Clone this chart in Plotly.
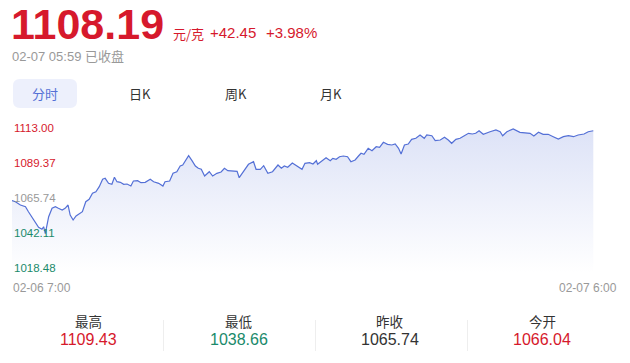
import plotly.graph_objects as go
from datetime import datetime

# ---------------- data ----------------
times = [
    "07:00", "07:08", "07:20", "07:32", "07:39", "07:47", "07:55", "08:03", "08:11", "08:15",
    "08:19", "08:27", "08:35", "08:43", "08:50", "08:59", "09:06", "09:13", "09:18", "09:25",
    "09:32", "09:40", "09:47", "09:55", "10:03", "10:11", "10:19", "10:27", "10:35", "10:41",
    "10:49", "10:57", "11:03", "11:09", "11:17", "11:25", "11:33", "11:42", "11:48", "11:58",
    "12:06", "12:16", "12:28", "12:36", "12:48", "12:58", "13:03", "13:14", "13:22", "13:31",
    "13:39", "13:45", "13:51", "13:59", "14:07", "14:15", "14:22", "14:29", "14:37", "14:48",
    "14:56", "15:06", "15:16", "15:24", "15:32", "15:43", "15:54", "15:59", "16:09", "16:21",
    "16:33", "16:39", "16:49", "16:57", "17:07", "17:18", "17:31", "17:39", "17:46", "17:54",
    "18:05", "18:16", "18:28", "18:35", "18:46", "18:54", "19:02", "19:05", "19:15", "19:25",
    "19:35", "19:41", "19:49", "19:57", "20:06", "20:16", "20:24", "20:34", "20:42", "20:48",
    "20:55", "21:05", "21:14", "21:24", "21:32", "21:41", "21:51", "22:01", "22:09", "22:17",
    "22:23", "22:31", "22:40", "22:48", "22:58", "23:08", "23:18", "23:24", "23:36", "23:44",
    "23:56", "00:06", "00:15", "00:23", "00:33", "00:43", "00:53", "01:03", "01:12", "01:20",
    "01:28", "01:38", "01:54", "02:08", "02:18", "02:24", "02:34", "02:49", "03:05", "03:21",
    "03:29", "03:38", "03:49", "04:00", "04:12", "04:24", "04:36", "04:48", "05:00", "05:12",
    "05:23", "05:37", "05:47", "05:59",
]
prices = [
    1061.08, 1060.27, 1058.04, 1056.90, 1053.52, 1049.74, 1046.77, 1042.99, 1041.64, 1043.39,
    1038.66, 1050.15, 1055.82, 1056.90, 1055.82, 1054.67, 1055.82, 1058.04, 1051.29, 1047.92,
    1050.62, 1052.44, 1053.52, 1060.27, 1061.89, 1065.94, 1067.02, 1070.40, 1075.39, 1076.07,
    1072.69, 1072.02, 1076.74, 1073.77, 1073.37, 1072.02, 1072.22, 1070.87, 1074.25, 1074.45,
    1073.10, 1073.37, 1075.39, 1073.77, 1072.69, 1070.87, 1073.77, 1074.25, 1079.44, 1080.53,
    1084.37, 1085.05, 1087.95, 1091.33, 1087.95, 1084.37, 1082.82, 1082.15, 1077.62, 1080.53,
    1077.62, 1079.44, 1080.32, 1082.82, 1081.20, 1081.20, 1080.80, 1076.47, 1080.53, 1085.52,
    1087.28, 1082.15, 1082.15, 1084.58, 1079.44, 1080.53, 1085.05, 1082.82, 1084.37, 1083.50,
    1086.40, 1084.58, 1082.15, 1086.20, 1086.60, 1085.72, 1087.95, 1085.52, 1087.75, 1089.97,
    1087.95, 1089.57, 1088.90, 1090.65, 1091.12, 1090.65, 1087.28, 1088.42, 1091.12, 1092.95,
    1092.27, 1096.32, 1094.70, 1097.40, 1097.00, 1100.37, 1099.02, 1098.55, 1099.23, 1096.32,
    1092.47, 1098.55, 1099.23, 1102.40, 1103.07, 1105.30, 1103.07, 1105.30, 1104.83, 1101.45,
    1101.93, 1103.75, 1101.93, 1099.70, 1102.40, 1103.07, 1104.83, 1106.45, 1105.98, 1106.45,
    1108.20, 1105.77, 1107.53, 1108.68, 1107.53, 1104.83, 1107.53, 1109.43, 1107.12, 1106.45,
    1106.45, 1104.63, 1107.12, 1105.77, 1105.77, 1104.15, 1102.60, 1104.15, 1104.83, 1104.15,
    1105.30, 1105.98, 1107.53, 1108.19,
]

y_tick_values = [1113.00, 1089.37, 1065.74, 1042.11, 1018.48]
y_tick_labels = ["1113.00", "1089.37", "1065.74", "1042.11", "1018.48"]
x_tick_labels = ["02-06 7:00", "02-07 6:00"]

last_price = "1108.19"
unit = "元/克"
change = "+42.45"
change_pct = "+3.98%"
status = "02-07 05:59 已收盘"
tabs = ["分时", "日K", "周K", "月K"]

stat_names = ["最高", "最低", "昨收", "今开"]
stat_values = ["1109.43", "1038.66", "1065.74", "1066.04"]

# ---------------- styles ----------------
RED = "#d6192c"
GREEN = "#1a8a6b"
GRAY = "#999999"
DARK = "#333333"
BLUE = "#5470d6"
NUM_FONT = "Liberation Sans, Arial, Noto Sans CJK SC, sans-serif"
CJK_FONT = "Noto Sans CJK SC, Liberation Sans, sans-serif"

tick_colors = [RED, RED, GRAY, GREEN, GREEN]
stat_colors = [RED, GREEN, DARK, RED]

W, H = 630, 363
PLOT_L, PLOT_R, PLOT_T, PLOT_B = 12, 618, 115, 275   # page pixels
L, R, T, B = PLOT_L, W - PLOT_R, PLOT_T, H - PLOT_B
PW, PH = PLOT_R - PLOT_L, PLOT_B - PLOT_T


def px(x):
    return (x - PLOT_L) / PW


def py(y):
    return (PLOT_B - y) / PH


def to_dt(s):
    h, m = map(int, s.split(":"))
    day = 6 if h >= 7 else 7
    return datetime(2026, 2, day, h, m)


xs = [to_dt(t) for t in times]
x_start = xs[0]
x_end = x_start + (xs[-1] - x_start) * PW / (593.3 - PLOT_L)

fig = go.Figure()
fig.add_trace(go.Scatter(
    x=xs, y=prices, mode="lines",
    line=dict(color=BLUE, width=1.2),
    fill="tozeroy",
    fillgradient=dict(
        type="vertical",
        colorscale=[[0, "rgba(84,112,214,0)"], [1, "rgba(84,112,214,0.20)"]],
        start=1012, stop=1110,
    ),
    hoverinfo="skip",
))

ann = []
for v, lab, c in zip(y_tick_values, y_tick_labels, tick_colors):
    ann.append(dict(xref="paper", yref="y", x=0, y=v, xanchor="left", yanchor="middle",
                    yshift=-4.5, text=lab, showarrow=False,
                    font=dict(family=NUM_FONT, size=11.5, color=c)))
ann.append(dict(xref="paper", yref="paper", x=px(11), y=py(288), xanchor="left", yanchor="middle",
                text=x_tick_labels[0], showarrow=False,
                font=dict(family=NUM_FONT, size=12, color=GRAY)))
ann.append(dict(xref="paper", yref="paper", x=px(619), y=py(288), xanchor="right", yanchor="middle",
                text=x_tick_labels[1], showarrow=False,
                font=dict(family=NUM_FONT, size=12, color=GRAY)))

# header
ann.append(dict(xref="paper", yref="paper", x=px(10), y=py(23.5), xanchor="left", yanchor="middle",
                text="<b>%s</b>" % last_price, showarrow=False, borderpad=0,
                font=dict(family=NUM_FONT, size=43, color=RED)))
ann.append(dict(xref="paper", yref="paper", x=px(171), y=py(33), xanchor="left", yanchor="middle",
                text=unit, showarrow=False, font=dict(family=CJK_FONT, size=13, color=RED)))
ann.append(dict(xref="paper", yref="paper", x=px(208), y=py(32), xanchor="left", yanchor="middle",
                text=change, showarrow=False, font=dict(family=NUM_FONT, size=15, color=RED)))
ann.append(dict(xref="paper", yref="paper", x=px(264), y=py(32), xanchor="left", yanchor="middle",
                text=change_pct, showarrow=False, font=dict(family=NUM_FONT, size=15, color=RED)))
ann.append(dict(xref="paper", yref="paper", x=px(10), y=py(57), xanchor="left", yanchor="middle",
                text=status, showarrow=False, font=dict(family=NUM_FONT, size=13, color=GRAY)))

tab_centers = [45, 140, 236, 331]
for i, (t, cx) in enumerate(zip(tabs, tab_centers)):
    ann.append(dict(xref="paper", yref="paper", x=px(cx), y=py(93), xanchor="center", yanchor="middle",
                    text=t, showarrow=False,
                    font=dict(family=CJK_FONT, size=13, color=BLUE if i == 0 else DARK)))

stat_centers = [88, 239, 390, 542]
for name, val, c, cx in zip(stat_names, stat_values, stat_colors, stat_centers):
    ann.append(dict(xref="paper", yref="paper", x=px(cx), y=py(321), xanchor="center", yanchor="middle",
                    text=name, showarrow=False, font=dict(family=CJK_FONT, size=13.5, color=DARK)))
    ann.append(dict(xref="paper", yref="paper", x=px(cx), y=py(339), xanchor="center", yanchor="middle",
                    text=val, showarrow=False, font=dict(family=NUM_FONT, size=16, color=c)))

shapes = []
x0, x1, y0, y1, r = 13, 77, 79, 108, 7
path = (f"M {px(x0 + r)} {py(y0)} L {px(x1 - r)} {py(y0)} Q {px(x1)} {py(y0)} {px(x1)} {py(y0 + r)} "
        f"L {px(x1)} {py(y1 - r)} Q {px(x1)} {py(y1)} {px(x1 - r)} {py(y1)} "
        f"L {px(x0 + r)} {py(y1)} Q {px(x0)} {py(y1)} {px(x0)} {py(y1 - r)} "
        f"L {px(x0)} {py(y0 + r)} Q {px(x0)} {py(y0)} {px(x0 + r)} {py(y0)} Z")
shapes.append(dict(type="path", xref="paper", yref="paper", path=path,
                   fillcolor="#edf0fc", line=dict(width=0), layer="below"))
for sx in [163.5, 315.5, 467.5]:
    shapes.append(dict(type="line", xref="paper", yref="paper", x0=px(sx), x1=px(sx),
                       y0=py(320), y1=py(351), line=dict(color="#eeeeee", width=1)))

fig.update_layout(
    width=W, height=H,
    margin=dict(l=L, r=R, t=T, b=B),
    paper_bgcolor="white", plot_bgcolor="white",
    showlegend=False, hovermode=False,
    xaxis=dict(range=[x_start, x_end], visible=False, fixedrange=True),
    yaxis=dict(range=[1010.8, 1118.8], visible=False, fixedrange=True),
    annotations=ann, shapes=shapes,
)

fig.write_html("out.html", config={"displayModeBar": False, "staticPlot": True},
               post_script="document.body.style.margin='0';document.body.style.overflow='hidden';")
